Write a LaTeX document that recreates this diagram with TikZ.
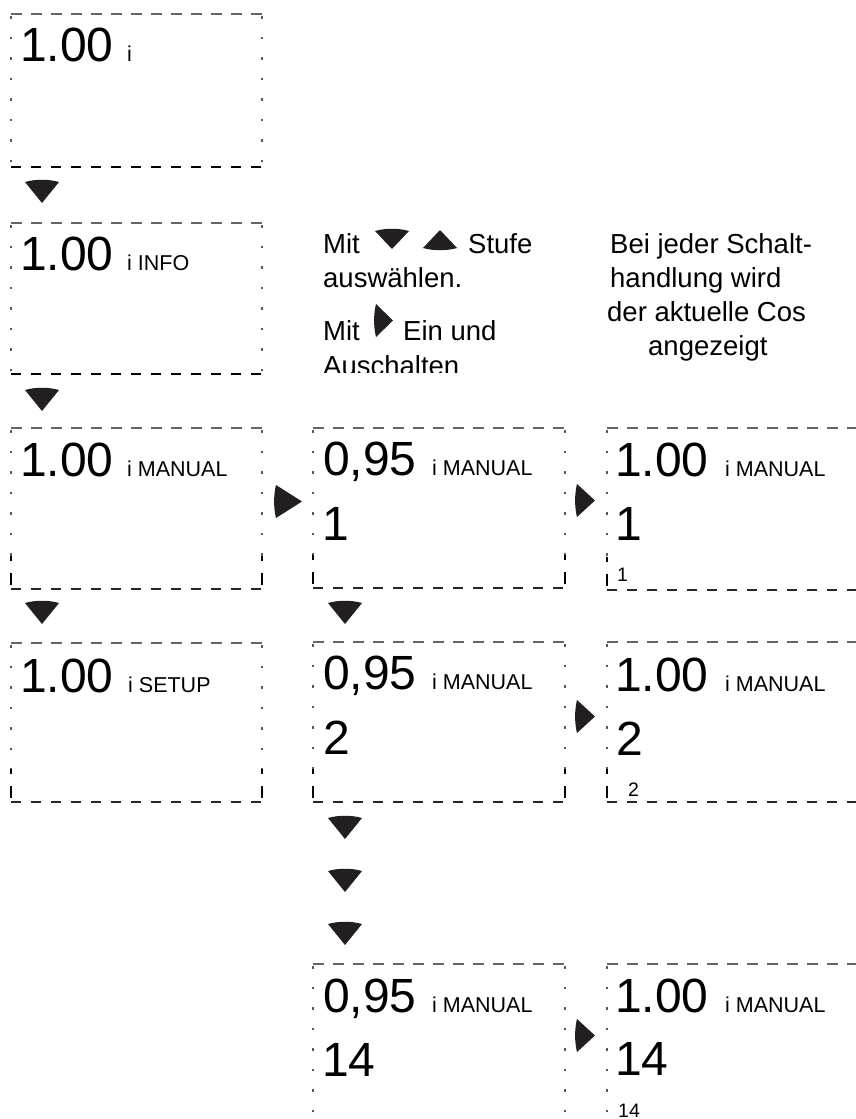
\documentclass[tikz,border=0pt]{standalone}
\usepackage{fontspec}
\setmainfont{Liberation Sans}
\definecolor{tricol}{HTML}{231F20}
\tikzset{
  topedge/.style={draw=black!60, line width=1.1pt, dash pattern=on 11pt off 9pt},
  botthick/.style={draw=black, line width=2.8pt, dash pattern=on 10pt off 10pt},
  botmed/.style={draw=black!85, line width=1.8pt, dash pattern=on 10pt off 10pt},
  sideedge/.style={draw=black!65, line width=2pt, dash pattern=on 2.5pt off 18pt},
  sidemark/.style={draw=black, line width=2.6pt},
  bigtxt/.style={anchor=base west, inner sep=0pt, font=\fontsize{48}{48}\selectfont},
  lbl/.style={anchor=base west, inner sep=0pt, font=\fontsize{21.5}{21.5}\selectfont},
  smalltxt/.style={anchor=base west, inner sep=0pt, font=\fontsize{19.5}{19.5}\selectfont},
  notetxt/.style={anchor=base west, inner sep=0pt, font=\fontsize{27.5}{27.5}\selectfont},
  trifill/.style={fill=tricol, draw=none},
}
% down triangle: centre x, top y, half width, height
\newcommand{\downtri}[4]{%
  \fill[trifill] (#1-#3,#2) .. controls (#1-#3*0.4,#2-3) and (#1+#3*0.4,#2-3) .. (#1+#3,#2) -- (#1,#2+#4) -- cycle;}
% up triangle: centre x, bottom y, half width, height
\newcommand{\uptri}[4]{%
  \fill[trifill] (#1-#3,#2) .. controls (#1-#3*0.4,#2+3) and (#1+#3*0.4,#2+3) .. (#1+#3,#2) -- (#1,#2-#4) -- cycle;}
% right triangle: left x, top y, width, height
\newcommand{\righttri}[4]{%
  \fill[trifill] (#1,#2) -- (#1+#3,#2+#4*0.5) -- (#1,#2+#4) .. controls (#1-2.5,#2+#4*0.7) and (#1-2.5,#2+#4*0.3) .. (#1,#2) -- cycle;}
% closed display box: x1,y1,x2,y2,bottom style
\newcommand{\lcdbox}[5]{%
  \draw[topedge] (#1,#2) -- (#3,#2);
  \draw[#5] (#1,#4) -- (#3,#4);
  \draw[sideedge] (#1,#2+2) -- (#1,#4);
  \draw[sideedge] (#3,#2+2) -- (#3,#4);}
% bottom marks on sides
\newcommand{\sidemarks}[2]{%
  \draw[sidemark] (#1,#2-33) -- (#1,#2-28);
  \draw[sidemark] (#1,#2-16) -- (#1,#2-4);}
\begin{document}
\begin{tikzpicture}[x=1pt,y=-1pt]
\useasboundingbox (0,0) rectangle (856,1119);
\fill[white] (0,0) rectangle (856,1119);

% ---------- column 1 ----------
\lcdbox{11}{14}{262}{167}{botthick}
\lcdbox{11}{223}{262}{374}{botthick}
\lcdbox{11}{428}{262}{589}{botmed}
\sidemarks{11}{589}\sidemarks{262}{589}
\lcdbox{11}{643}{262}{802}{botmed}
\sidemarks{11}{802}\sidemarks{262}{802}

\node[bigtxt] (a1) at (20,61) {1.00};
\node[lbl] (a1l) at (127,61) {i};
\node[bigtxt] (a2) at (20,270) {1.00};
\node[lbl] (a2l) at (127,270) {i INFO};
\node[bigtxt] (a3) at (20,476) {1.00};
\node[lbl] (a3l) at (127,476) {i MANUAL};
\node[bigtxt] (a4) at (20,692) {1.00};
\node[lbl] (a4l) at (128,692) {i SETUP};

\downtri{42}{182}{17}{21}
\downtri{42}{390}{17}{21}
\downtri{42}{603}{17}{21}

% ---------- column 2 ----------
\lcdbox{313}{428}{565}{588}{botmed}
\sidemarks{313}{588}\sidemarks{565}{588}
\lcdbox{313}{642}{565}{802}{botmed}
\sidemarks{313}{802}\sidemarks{565}{802}
\draw[topedge] (313,964) -- (565,964);
\draw[sideedge] (313,966) -- (313,1119);
\draw[sideedge] (565,966) -- (565,1119);

\node[bigtxt] (b1) at (323,475) {0,95};
\node[lbl] (b1l) at (432,475) {i MANUAL};
\node[bigtxt] (b1n) at (322,540) {1};
\node[bigtxt] (b2) at (323,689) {0,95};
\node[lbl] (b2l) at (432,689) {i MANUAL};
\node[bigtxt] (b2n) at (323,754) {2};
\node[bigtxt] (b3) at (323,1012) {0,95};
\node[lbl] (b3l) at (432,1012) {i MANUAL};
\node[bigtxt] (b3n) at (322,1076) {14};

\righttri{276}{485}{26}{33}
\downtri{345}{603}{17}{21}
\downtri{345}{818}{17}{21}
\downtri{345}{871}{17}{21}
\downtri{345}{924}{17}{21}

% ---------- column 3 ----------
\draw[topedge] (607,428) -- (856,428);
\draw[botmed] (607,590) -- (856,590);
\draw[sideedge] (607,430) -- (607,590);
\sidemarks{607}{590}
\draw[topedge] (607,642) -- (856,642);
\draw[botmed] (607,802) -- (856,802);
\draw[sideedge] (607,644) -- (607,802);
\sidemarks{607}{802}
\draw[topedge] (607,964) -- (856,964);
\draw[sideedge] (607,966) -- (607,1119);

\node[bigtxt] (c1) at (615,476) {1.00};
\node[lbl] (c1l) at (725,476) {i MANUAL};
\node[bigtxt] (c1n) at (615,540) {1};
\node[smalltxt] (c1s) at (617,581) {1};
\node[bigtxt] (c2) at (615,691) {1.00};
\node[lbl] (c2l) at (725,691) {i MANUAL};
\node[bigtxt] (c2n) at (616,755) {2};
\node[smalltxt] (c2s) at (628,796) {2};
\node[bigtxt] (c3) at (615,1012) {1.00};
\node[lbl] (c3l) at (725,1012) {i MANUAL};
\node[bigtxt] (c3n) at (615,1075) {14};
\node[smalltxt] (c3s) at (618,1117) {14};

\righttri{577}{484}{18}{33}
\righttri{577}{700}{18}{33}
\righttri{577}{1019}{18}{33}

% ---------- notes ----------
\node[notetxt] (n1) at (323,253) {Mit};
\downtri{392}{231}{17}{18}
\uptri{440}{248}{17}{18}
\node[notetxt] (n1b) at (468,253) {Stufe};
\node[notetxt] (n2) at (323,287) {auswählen.};
\node[notetxt] (n3) at (323,340) {Mit};
\righttri{376}{304}{17}{33}
\node[notetxt] (n3b) at (403,340) {Ein und};
\begin{scope}
  \clip (300,345) rectangle (600,372);
  \node[notetxt] (n4) at (323,375) {Auschalten};
\end{scope}

\node[notetxt] (m1) at (610,253) {Bei jeder Schalt-};
\node[notetxt] (m2) at (610,287) {handlung wird};
\node[notetxt] (m3) at (607,321) {der aktuelle Cos};
\node[notetxt] (m4) at (648,355) {angezeigt};
\end{tikzpicture}
\end{document}
